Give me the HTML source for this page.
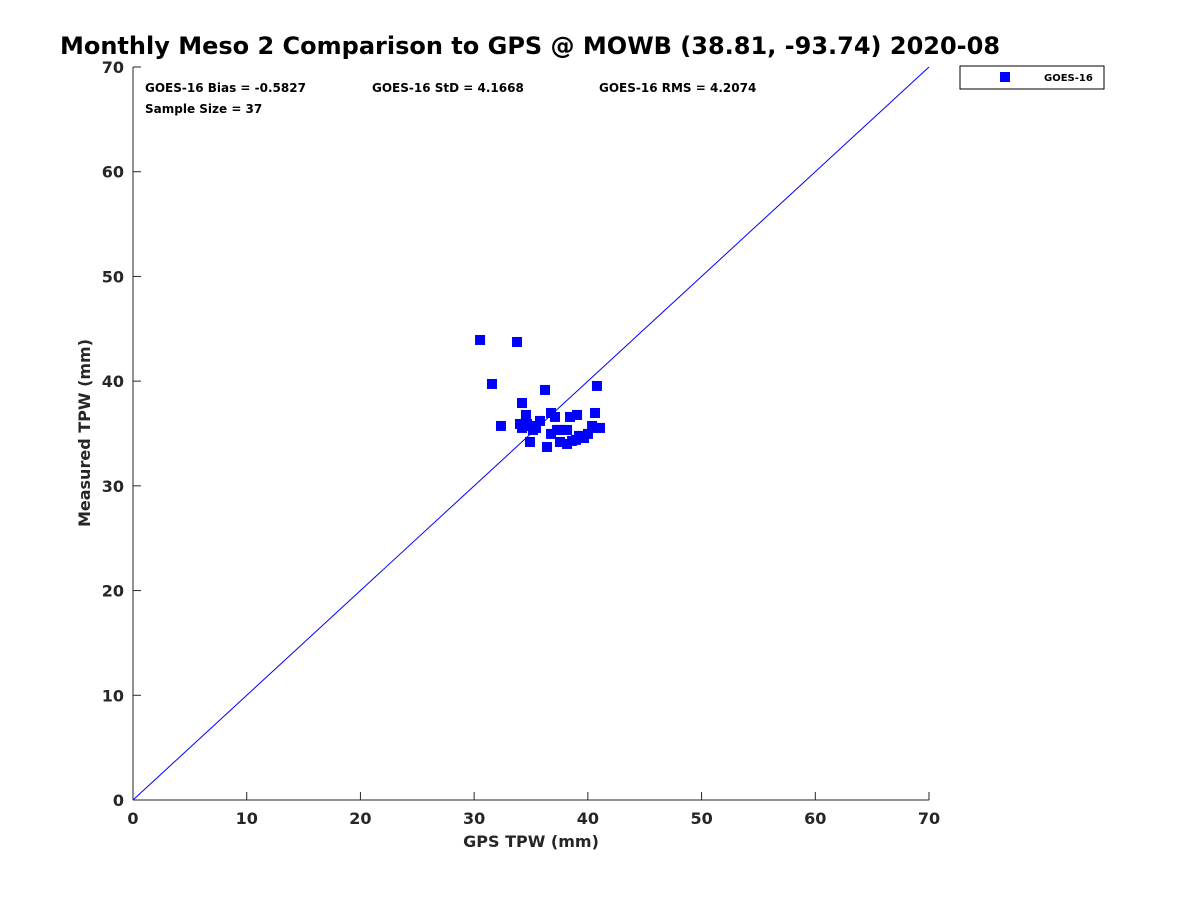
<!DOCTYPE html>
<html><head><meta charset="utf-8"><style>
body{margin:0;background:#fff;}
svg text{font-family:"DejaVu Sans","Liberation Sans",sans-serif;font-weight:bold;}
</style></head><body>
<svg id="chart" width="1200" height="900" xmlns="http://www.w3.org/2000/svg">
<rect width="1200" height="900" fill="#fff"/>
<text x="530" y="54" font-size="24" text-anchor="middle" fill="#000">Monthly Meso 2 Comparison to GPS @ MOWB (38.81, -93.74) 2020-08</text>
<g id="axes"></g>
<line id="diag" stroke="#0000ff" stroke-width="1"/>
<g id="points"></g>
<text x="145" y="92" font-size="12" fill="#000">GOES-16 Bias = -0.5827</text>
<text x="372" y="92" font-size="12" fill="#000">GOES-16 StD = 4.1668</text>
<text x="599" y="92" font-size="12" fill="#000">GOES-16 RMS = 4.2074</text>
<text x="145" y="113" font-size="12" fill="#000">Sample Size = 37</text>
<g>
<rect x="960" y="66" width="144" height="23" fill="#fff" stroke="#000" stroke-width="1"/>
<rect x="1000" y="72" width="10" height="10" fill="#0000ff"/>
<text x="1044" y="81" font-size="10" fill="#000">GOES-16</text>
</g>
<text x="531" y="847" font-size="16" text-anchor="middle" fill="#262626">GPS TPW (mm)</text>
<text transform="translate(90,433) rotate(-90)" font-size="16" text-anchor="middle" fill="#262626">Measured TPW (mm)</text>
</svg>
<script>
const xTicks=[0,10,20,30,40,50,60,70];
const yTicks=[0,10,20,30,40,50,60,70];
const gpsX=[30.52,33.77,31.57,36.23,40.80,34.21,34.56,36.76,37.11,38.43,39.05,40.63,32.36,34.03,34.47,34.21,35.00,35.79,35.44,35.18,36.76,37.29,38.17,37.64,40.37,41.07,40.72,39.22,38.96,37.55,34.91,36.41,38.17,39.66,40.01,34.65,38.61];
const measY=[43.93,43.74,39.73,39.16,39.54,37.91,36.77,36.96,36.58,36.58,36.77,36.96,35.72,35.91,35.72,35.53,35.72,36.20,35.53,35.34,34.96,35.34,35.34,35.34,35.72,35.53,35.53,34.77,34.39,34.19,34.19,33.71,34.00,34.57,34.96,35.91,34.29];
const x0=133,x1=929,y0=800,y1=67;
const sx=v=>x0+(v-0)/(70-0)*(x1-x0);
const sy=v=>y0-(v-0)/(70-0)*(y0-y1);
const NS="http://www.w3.org/2000/svg";
const ax=document.getElementById('axes');
function mk(t,a,p){const e=document.createElementNS(NS,t);for(const k in a)e.setAttribute(k,a[k]);(p||ax).appendChild(e);return e;}
let l=mk('line',{x1:x0,y1:y0,x2:x1,y2:y0,stroke:'#262626'});


l=mk('line',{x1:x0,y1:y0,x2:x0,y2:y1,stroke:'#262626'});


xTicks.forEach(v=>{
 const t=mk('line',{x1:sx(v),y1:y0,x2:sx(v),y2:y0-8,stroke:'#262626'});
 
 
 const tx=mk('text',{x:sx(v),y:y0+24,'font-size':16,'text-anchor':'middle',fill:'#262626'});
 tx.textContent=v;
 
 
});
yTicks.forEach(v=>{
 const t=mk('line',{x1:x0,y1:sy(v),x2:x0+8,y2:sy(v),stroke:'#262626'});
 
 
 const tx=mk('text',{x:x0-9,y:sy(v)+6,'font-size':16,'text-anchor':'end',fill:'#262626'});
 tx.textContent=v;
 
 
});
const d=document.getElementById('diag');
d.setAttribute('x1',sx(0));d.setAttribute('y1',sy(0));d.setAttribute('x2',sx(70));d.setAttribute('y2',sy(70));
const pg=document.getElementById('points');
gpsX.forEach((v,i)=>{
 const r=mk('rect',{x:sx(v)-5,y:sy(measY[i])-5,width:10,height:10,fill:'#0000ff'},pg);
 
 
});
</script>
</body></html>
